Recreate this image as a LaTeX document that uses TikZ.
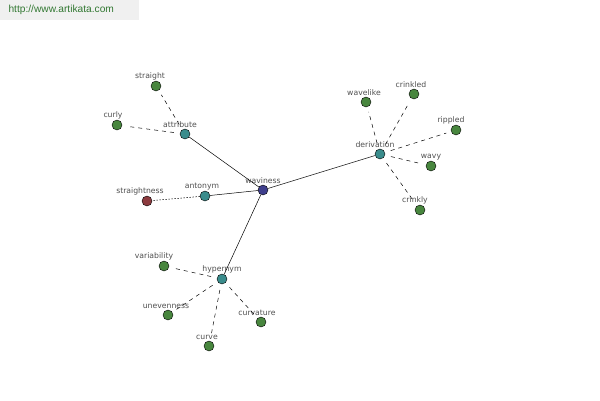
\documentclass[tikz,border=0pt]{standalone}
\usepackage{fontspec}
\setmainfont{Liberation Sans}
\newfontfamily\wordfont{DejaVu Sans}
\usetikzlibrary{positioning}
\definecolor{HubBlue}{RGB}{62,62,140}
\definecolor{RelTeal}{RGB}{58,140,140}
\definecolor{LeafGreen}{RGB}{72,134,62}
\definecolor{OppRed}{RGB}{140,58,62}
\definecolor{LabelGray}{RGB}{80,80,80}
\definecolor{SiteGreen}{RGB}{50,120,50}

\begin{document}
\begin{tikzpicture}[x=1pt, y=-1pt,
    lbl/.style={font=\wordfont\fontsize{7.7}{8}\selectfont, text=LabelGray, inner sep=1pt},
    word/.style={circle, draw=black, line width=0.4pt, inner sep=0pt, minimum size=10pt, fill=LeafGreen},
    rel/.style={word, fill=RelTeal},
    hub/.style={word, fill=HubBlue},
    opp/.style={word, fill=OppRed},
    link/.style={draw=black, line width=0.5pt},
    sublink/.style={draw=black, line width=0.5pt, dash pattern=on 4pt off 4pt, shorten <=6pt, shorten >=5pt},
    opplink/.style={draw=black, line width=0.5pt, dash pattern=on 1.5pt off 1.5pt}
]
\useasboundingbox[fill=white] (0,0) rectangle (600,400);
% site banner
\fill[gray!12] (0,0) rectangle (139,20);
\node[font=\fontsize{10.2}{11}\selectfont, text=SiteGreen, anchor=west] (site) at (5,10) {http://www.artikata.com};

% words
\node[hub, label={[lbl]above:waviness}] (waviness) at (263,190) {};
\node[rel, label={[lbl, xshift=-5pt]above:attribute}] (attribute) at (185,134) {};
\node[rel, label={[lbl, xshift=-3pt]above:antonym}] (antonym) at (205,196) {};
\node[rel, label={[lbl, xshift=-5pt]above:derivation}] (derivation) at (380,154) {};
\node[rel, label={[lbl]above:hypernym}] (hypernym) at (222,279) {};

\node[word, label={[lbl, xshift=-6pt]above:straight}] (straight) at (156,86) {};
\node[word, label={[lbl, xshift=-4pt]above:curly}] (curly) at (117,125) {};
\node[opp, label={[lbl, xshift=-7pt]above:straightness}] (straightness) at (147,201) {};

\node[word, label={[lbl, xshift=-2pt]above:wavelike}] (wavelike) at (366,102) {};
\node[word, label={[lbl, xshift=-3pt]above:crinkled}] (crinkled) at (414,94) {};
\node[word, label={[lbl, xshift=-5pt]above:rippled}] (rippled) at (456,130) {};
\node[word, label={[lbl]above:wavy}] (wavy) at (431,166) {};
\node[word, label={[lbl, xshift=-5pt]above:crinkly}] (crinkly) at (420,210) {};

\node[word, label={[lbl, xshift=-10pt]above:variability}] (variability) at (164,266) {};
\node[word, label={[lbl, xshift=-2pt]above:unevenness}] (unevenness) at (168,315) {};
\node[word, label={[lbl, xshift=-2pt]above:curve}] (curve) at (209,346) {};
\node[word, label={[lbl, xshift=-4pt]above:curvature}] (curvature) at (261,322) {};

% links
\draw[link] (waviness) -- (attribute);
\draw[link] (waviness) -- (antonym);
\draw[link] (waviness) -- (derivation);
\draw[link] (waviness) -- (hypernym);
\draw[opplink] (antonym) -- (straightness);
\foreach \leaf in {straight, curly}
    \draw[sublink] (attribute) -- (\leaf);
\foreach \leaf in {wavelike, crinkled, rippled, wavy, crinkly}
    \draw[sublink] (derivation) -- (\leaf);
\foreach \leaf in {variability, unevenness, curve, curvature}
    \draw[sublink] (hypernym) -- (\leaf);
\end{tikzpicture}
\end{document}
